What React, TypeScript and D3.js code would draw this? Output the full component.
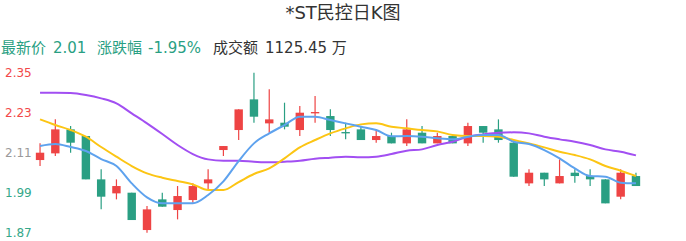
import React from "react";
import * as d3 from "d3";

const title = "*ST民控日K图";
const yTicks = [1.87, 1.99, 2.11, 2.23, 2.35];

const openV = [2.088, 2.108, 2.18, 2.16, 2.03, 1.988, 1.99, 1.878, 1.97, 1.938,
  1.968, 2.018, 2.118, 2.178, 2.27, 2.198, 2.2, 2.178, 2.228, 2.22,
  2.172, 2.18, 2.148, 2.16, 2.138, 2.17, 2.138, 2.16, 2.138, 2.19,
  2.18, 2.14, 2.018, 2.05, 2.018, 2.05, 2.04, 2.03, 1.978, 2.04];
const closeV = [2.11, 2.18, 2.14, 2.03, 1.978, 2.01, 1.908, 1.94, 1.948, 1.98,
  2.01, 2.03, 2.13, 2.24, 2.218, 2.21, 2.188, 2.23, 2.232, 2.178,
  2.168, 2.148, 2.16, 2.138, 2.18, 2.138, 2.16, 2.138, 2.19, 2.17,
  2.148, 2.038, 2.05, 2.03, 2.04, 2.04, 2.03, 1.958, 2.05, 2.01];
const highV = [2.138, 2.21, 2.19, 2.16, 2.06, 2.03, 1.99, 1.95, 1.99, 2.01,
  2.018, 2.06, 2.13, 2.24, 2.35, 2.30, 2.26, 2.25, 2.28, 2.24,
  2.20, 2.19, 2.18, 2.17, 2.21, 2.19, 2.17, 2.16, 2.20, 2.19,
  2.21, 2.148, 2.06, 2.05, 2.09, 2.06, 2.06, 2.03, 2.06, 2.05];
const lowV = [2.07, 2.10, 2.11, 2.03, 1.94, 1.97, 1.908, 1.87, 1.948, 1.91,
  1.96, 2.0, 2.10, 2.148, 2.20, 2.17, 2.18, 2.16, 2.20, 2.16,
  2.15, 2.148, 2.14, 2.138, 2.13, 2.138, 2.138, 2.138, 2.13, 2.14,
  2.14, 2.038, 2.01, 2.01, 2.018, 2.02, 2.01, 1.958, 1.97, 2.01];

const ma5 = [2.130, 2.136, 2.127, 2.115, 2.091, 2.070, 2.018, 1.976, 1.958, 1.958,
  1.958, 1.983, 2.024, 2.085, 2.138, 2.168, 2.193, 2.218, 2.218, 2.208,
  2.198, 2.188, 2.178, 2.159, 2.160, 2.158, 2.153, 2.150, 2.158, 2.163,
  2.163, 2.143, 2.136, 2.118, 2.093, 2.063, 2.040, 2.038, 2.020, 2.018];
const ma10 = [2.210, 2.193, 2.178, 2.158, 2.127, 2.098, 2.070, 2.048, 2.035, 2.025,
  2.015, 1.998, 1.998, 2.022, 2.046, 2.063, 2.093, 2.126, 2.148, 2.168,
  2.183, 2.195, 2.198, 2.188, 2.183, 2.178, 2.174, 2.163, 2.160, 2.160,
  2.158, 2.148, 2.138, 2.126, 2.113, 2.103, 2.090, 2.070, 2.056, 2.040];
const ma20 = [2.290, 2.290, 2.289, 2.283, 2.273, 2.258, 2.228, 2.198, 2.166, 2.133,
  2.106, 2.090, 2.086, 2.086, 2.083, 2.081, 2.083, 2.086, 2.092, 2.095,
  2.098, 2.096, 2.098, 2.106, 2.116, 2.120, 2.133, 2.143, 2.158, 2.165,
  2.170, 2.171, 2.168, 2.158, 2.150, 2.143, 2.133, 2.120, 2.113, 2.102];

const latestPrice = "2.01";
const changePct = "-1.95%";
const turnover = "1125.45 万";

const RED = "#ee4444";
const GREEN = "#2a9f83";
const FONT = "'DejaVu Sans', 'Noto Sans CJK SC', sans-serif";

export default function App() {
  const W = 686, H = 241;
  const idx = d3.range(openV.length);
  const x = d3.scaleBand<number>().domain(idx).range([32.4, 643.6]);
  const cx = (i: number) => (x(i) as number) + x.bandwidth() / 2;
  const y = d3.scaleLinear().domain([1.87, 2.35]).range([232.7, 72.7]);
  const bodyW = 8.4;

  const line = d3.line<number>()
    .x((_, i) => cx(i))
    .y((d) => y(d))
    .curve(d3.curveMonotoneX);

  const tickColor = (v: number) => (v > 2.11 + 1e-9 ? "#f24848" : v < 2.11 - 1e-9 ? "#36a88a" : "#9a9a9a");

  return (
    <svg width={W} height={H} style={{ position: "fixed", left: 0, top: 0, background: "#fff" }} fontFamily={FONT}>
      <rect width={W} height={H} fill="#fff" />
      <text x={343} y={19} textAnchor="middle" fontSize={18} fill="#333">{title}</text>
      <g fontSize={15}>
        <text x={1} y={53} fill={GREEN}>最新价</text>
        <text x={53} y={53} fill={GREEN}>{latestPrice}</text>
        <text x={97} y={53} fill={GREEN}>涨跌幅</text>
        <text x={148} y={53} fill={GREEN}>{changePct}</text>
        <text x={213} y={53} fill="#333">成交额</text>
        <text x={265} y={53} fill="#333">{turnover}</text>
      </g>
      <g fontSize={12}>
        {yTicks.map((t) => (
          <text key={t} x={5} y={y(t)} dominantBaseline="central" fill={tickColor(t)}>{t.toFixed(2)}</text>
        ))}
      </g>
      <g>
        {idx.map((i) => {
          const up = closeV[i] >= openV[i];
          const c = up ? RED : GREEN;
          const top = y(Math.max(openV[i], closeV[i]));
          const bot = y(Math.min(openV[i], closeV[i]));
          return (
            <g key={i}>
              <line x1={cx(i)} x2={cx(i)} y1={y(highV[i])} y2={y(lowV[i])} stroke={c} strokeWidth={1.2} />
              <rect x={cx(i) - bodyW / 2} y={top} width={bodyW} height={Math.max(1.2, bot - top)} fill={c} />
            </g>
          );
        })}
      </g>
      <path d={line(ma20) || ""} fill="none" stroke="#a24ff2" strokeWidth={2} />
      <path d={line(ma10) || ""} fill="none" stroke="#fcc514" strokeWidth={2} />
      <path d={line(ma5) || ""} fill="none" stroke="#5ea2ee" strokeWidth={2} />
    </svg>
  );
}
